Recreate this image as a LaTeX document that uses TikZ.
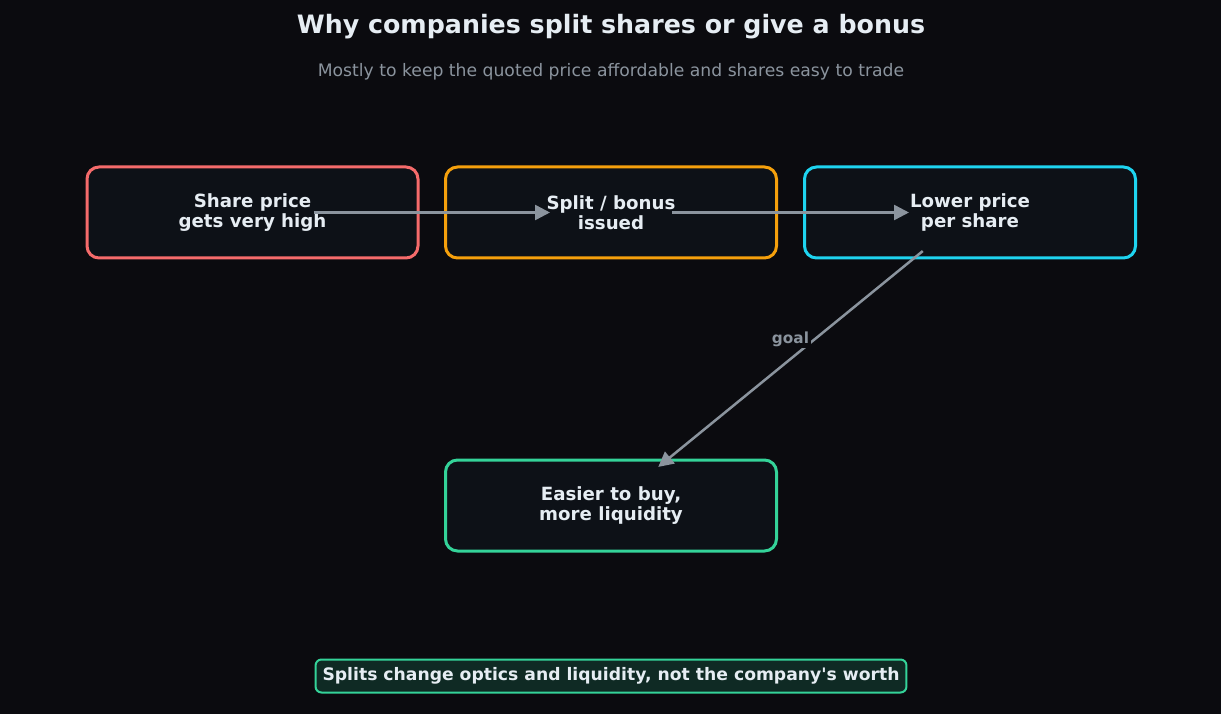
\documentclass[tikz,border=0pt]{standalone}
\usepackage{fontspec}
\setmainfont{DejaVu Sans}
\usepackage{xcolor}
\usetikzlibrary{arrows.meta,positioning}
\definecolor{bgdark}{HTML}{0B0B0F}
\definecolor{boxfill}{HTML}{0D1117}
\definecolor{txtlight}{HTML}{E6EDF3}
\definecolor{txtgray}{HTML}{8B949E}
\definecolor{redline}{HTML}{F56B6B}
\definecolor{orangeline}{HTML}{F5A00C}
\definecolor{cyanline}{HTML}{1ED4F0}
\definecolor{greenline}{HTML}{34D399}
\definecolor{notefill}{HTML}{0F2A24}
\tikzset{
  stage/.style={draw, line width=3pt, rounded corners=12pt, fill=boxfill, minimum width=331pt, minimum height=91pt, align=center, text=txtlight, font=\fontsize{18.2}{20.5}\selectfont\bfseries},
  flow/.style={draw=txtgray, line width=2.5pt, -{Triangle[length=15pt, width=15pt]}, shorten <=61pt, shorten >=61pt},
  tag/.style={fill=bgdark, text=txtgray, inner sep=2pt, font=\fontsize{15.3}{17}\selectfont\bfseries},
  note/.style={draw=greenline, line width=2pt, rounded corners=6pt, fill=notefill, text=txtlight, inner xsep=7pt, text height=13pt, text depth=4pt, minimum height=33pt, font=\fontsize{17.2}{19}\selectfont\bfseries}
}
\begin{document}
\begin{tikzpicture}[x=1pt, y=-1pt]
\fill[bgdark] (0,0) rectangle (1221,714);
\useasboundingbox (0,0) rectangle (1221,714);
\node[text=txtlight, font=\fontsize{25.3}{28}\selectfont\bfseries] (title) at (611,27) {Why companies split shares or give a bonus};
\node[text=txtgray, font=\fontsize{17.2}{20}\selectfont] (subtitle) at (611,72) {Mostly to keep the quoted price affordable and shares easy to trade};
% stages
\node[stage, draw=redline] (high) at (252.5,212.5) {Share price\\gets very high};
\node[stage, draw=orangeline] (issue) at (611,212.5) {Split / bonus\\issued};
\node[stage, draw=cyanline] (lower) at (970,212.5) {Lower price\\per share};
\node[stage, draw=greenline] (liq) at (611,505.5) {Easier to buy,\\more liquidity};
% arrows
\draw[flow] (high.center) -- (issue.center);
\draw[flow] (issue.center) -- (lower.center);
\draw[flow] (lower.center) -- node[tag, yshift=20pt] (goal) {goal} (liq.center);
\node[note] (worth) at (611,676) {Splits change optics and liquidity, not the company\textquotesingle s worth};
\end{tikzpicture}
\end{document}
